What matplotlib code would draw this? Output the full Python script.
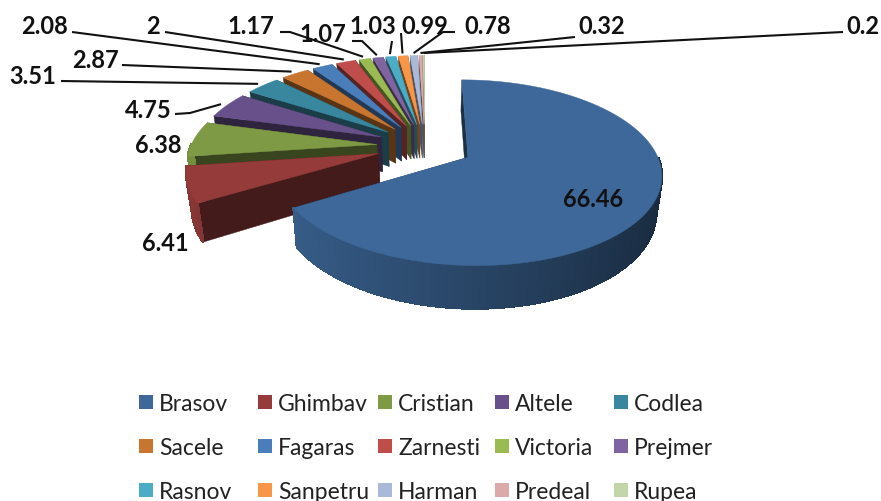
import numpy as np
import matplotlib
matplotlib.use('Agg')
import matplotlib.pyplot as plt
from matplotlib.colors import to_rgb
from matplotlib.patches import Polygon, Rectangle

plt.rcParams['font.family'] = ['Lato', 'DejaVu Sans']

cities = ['Brasov', 'Ghimbav', 'Cristian', 'Altele', 'Codlea',
          'Sacele', 'Fagaras', 'Zarnesti', 'Victoria', 'Prejmer',
          'Rasnov', 'Sanpetru', 'Harman', 'Predeal', 'Rupea']
values = [66.46, 6.41, 6.38, 4.75, 3.51, 2.87, 2.08, 2, 1.17, 1.07, 1.03, 0.99, 0.78, 0.32, 0.2]
colors = ['#3D6899', '#953C3A', '#7E9A44', '#68508A', '#39879F',
          '#C8762F', '#4A7EBB', '#BF4E4B', '#9ABA52', '#8064A2',
          '#4BACC6', '#F79646', '#A9B9D9', '#DBA9A9', '#C3D6A9']

# where the value labels sit, in pixels
label_pos = [(593, 200), (165, 244), (158, 146), (148, 110), (33, 77),
             (95, 60), (44, 26), (153, 27), (251, 27), (323, 35),
             (373, 27), (425, 27), (488, 27), (602, 27), (863, 27)]
# start of each leader line (None = no leader), with an optional elbow
leader_pts = [None, None, None, [(175, 115), (190, 114)], [(61, 82)],
              [(122, 66)], [(72, 33)], [(165, 33)], [(280, 33), (290, 33)], [(352, 42), (362, 42)],
              [(392, 42)], [(401, 34)], [(455, 33), (443, 33)], [(575, 38)], [(843, 33)]]
legend_x = [139, 258, 378, 495, 614]
legend_y = [403, 447, 491]

# pie projection
cx, cy = 425, 147
rx, ry = 186, 86.6
persp = 0.162
explode = 0.26
drop = 35
converge = 0.975


def project(u, v, low=False):
    s = 1 / (1 + persp * v)
    x = cx + rx * u * s
    y = cy - ry * v * s
    if low:
        x = cx + (x - cx) * converge
        y = y + drop * s
    return x, y


def shade(col, f):
    return tuple(c * f for c in to_rgb(col))


fig = plt.figure(figsize=(8.81, 5.02), dpi=100)
ax = fig.add_axes([0, 0, 1, 1])
ax.set_xlim(0, 881)
ax.set_ylim(502, 0)
ax.axis('off')

edges = np.cumsum([0] + values) / sum(values) * 2 * np.pi
n = len(values)

# back slices first, Brasov last
for i in range(n - 1, -1, -1):
    a0, a1 = edges[i], edges[i + 1]
    mid = (a0 + a1) / 2
    ou, ov = explode * np.sin(mid), explode * np.cos(mid)
    th = np.linspace(a0, a1, max(int((a1 - a0) * 60), 3))
    us, vs = ou + np.sin(th), ov + np.cos(th)

    top = [project(u, v) for u, v in zip(us, vs)]
    low = [project(u, v, True) for u, v in zip(us, vs)]
    apex = project(ou, ov)
    apex_low = project(ou, ov, True)
    wall = shade(colors[i], 0.45)

    # radial walls
    ax.add_patch(Polygon([apex, top[-1], low[-1], apex_low], fc=wall, ec=wall, lw=0.3))
    ax.add_patch(Polygon([apex, top[0], low[0], apex_low], fc=wall, ec=wall, lw=0.3))

    # outer wall, only the part facing the viewer, darker towards the right
    for j in range(len(th) - 1):
        tm = (th[j] + th[j + 1]) / 2
        if np.cos(tm) > 0:
            continue
        c = shade(colors[i], 0.66 - 0.26 * np.sin(tm))
        ax.add_patch(Polygon([top[j], top[j + 1], low[j + 1], low[j]], fc=c, ec=c, lw=1.2, antialiased=False))

    # top face
    ax.add_patch(Polygon([apex] + top, fc=colors[i], ec=colors[i], lw=0.3))

    # leader line and label
    if leader_pts[i] is not None:
        end = project(ou + 1.04 * np.sin(mid), ov + 1.04 * np.cos(mid))
        pts = leader_pts[i] + [end]
        ax.plot([p[0] for p in pts], [p[1] for p in pts], color='#111111', lw=1.5, solid_capstyle='butt')
    ax.text(label_pos[i][0], label_pos[i][1], f'{values[i]:g}', fontsize=17, fontweight='bold',
            color='#111111', ha='center', va='center')

# legend, three rows of five
for i, name in enumerate(cities):
    col = i % 5
    row = i // 5
    x, y = legend_x[col], legend_y[row]
    ax.add_patch(Rectangle((x, y - 7), 14, 14, fc=colors[i], ec='none'))
    ax.text(x + 20, y + 1.5, name, fontsize=16.5, color='#222222', ha='left', va='center')

plt.savefig('out.png', dpi=100)
